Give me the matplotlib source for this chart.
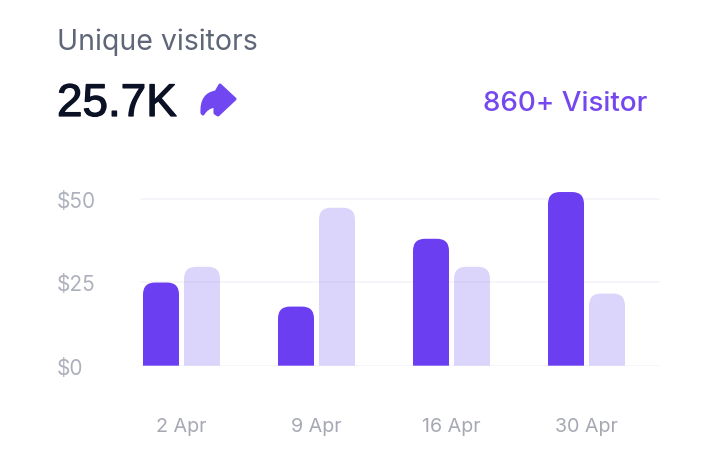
import matplotlib
matplotlib.use("Agg")
import matplotlib.pyplot as plt
import matplotlib.patheffects as pe
from matplotlib.patches import PathPatch
from matplotlib.path import Path
from matplotlib.transforms import Affine2D

plt.rcParams['font.family'] = ['Inter', 'DejaVu Sans']

dates = ["2 Apr", "9 Apr", "16 Apr", "30 Apr"]
dark_vals = [24.9, 17.7, 38, 52]
light_vals = [29.6, 47.3, 29.6, 21.6]
y_ticks = [0, 25, 50]
y_labels = ["$0", "$25", "$50"]

W, H = 706, 452
PURPLE = "#6b3ff1"
PALE = "#6a4cf0"


def round_bar(ax, x, h, w, color, alpha=1.0, r_px=12):
    # bar with only the top corners rounded
    rx = r_px * (ax.get_xlim()[1] - ax.get_xlim()[0]) / (ax.get_position().width * W)
    ry = r_px * (ax.get_ylim()[1] - ax.get_ylim()[0]) / (ax.get_position().height * H)
    l, r = x - w / 2, x + w / 2
    verts = [(l, 0), (l, h - ry), (l, h), (l + rx, h), (r - rx, h), (r, h), (r, h - ry), (r, 0), (l, 0)]
    codes = [Path.MOVETO, Path.LINETO, Path.CURVE3, Path.CURVE3, Path.LINETO,
             Path.CURVE3, Path.CURVE3, Path.LINETO, Path.CLOSEPOLY]
    ax.add_patch(PathPatch(Path(verts, codes), fc=color, ec="none", alpha=alpha, zorder=3))


fig = plt.figure(figsize=(W / 100, H / 100), dpi=100, facecolor="white")
# axes box runs from the $0 line up to a bit above the $50 line
top_px, bot_px = 180.7, 366.7
ax = fig.add_axes([140 / W, 1 - bot_px / H, 520 / W, (bot_px - top_px) / H])
ax.set_xlim((140 - 181.5) / 135, (660 - 181.5) / 135)
ax.set_ylim(0, (bot_px - top_px) / 3.34)

for s in ax.spines.values():
    s.set_visible(False)
ax.set_yticks(y_ticks)
ax.set_yticklabels(y_labels, fontsize=15, color="#aeb1bb")
ax.set_xticks(range(len(dates)))
ax.set_xticklabels(dates, fontsize=14.2, color="#a6a9b3")
ax.tick_params(length=0)
ax.tick_params(axis="x", pad=37)
ax.tick_params(axis="y", pad=0)
for lab in ax.get_yticklabels():
    lab.set_horizontalalignment("left")
    lab.set_x(-83 / 520)
ax.grid(axis="y", color="#f5f5f9", linewidth=1.2, zorder=0)
ax.set_axisbelow(True)

bw = 36 / 135
off = 20.5 / 135
for i in range(len(dates)):
    round_bar(ax, i - off, dark_vals[i], bw, PURPLE)
    round_bar(ax, i + off, light_vals[i], bw, PALE, alpha=0.23)

fig.text(57 / W, 1 - 42 / H, "Unique visitors", fontsize=20.5, color="#5f6678", va="center", ha="left")
big = fig.text(57 / W, 1 - 105 / H, "25.7K", fontsize=33, color="#0c1226", va="center", ha="left",
               family=["Liberation Sans", "DejaVu Sans"], fontweight="normal")
big.set_path_effects([pe.withStroke(linewidth=0.9, foreground="#0c1226")])
fig.text(647 / W, 1 - 104 / H, "860+ Visitor", fontsize=20, color="#7547ef", va="center", ha="right", fontweight="medium")

# arrow icon, in figure pixels (y down)
arrow = [(220, 86), (235, 100), (218, 116), (215, 114), (215, 107), (207, 108), (203, 115),
         (202, 114), (201, 95), (216, 93), (220, 86)]
codes = [Path.MOVETO, Path.LINETO, Path.LINETO, Path.LINETO, Path.LINETO, Path.CURVE3, Path.CURVE3,
         Path.LINETO, Path.CURVE3, Path.CURVE3, Path.CLOSEPOLY]
tr = Affine2D().scale(1, -1).translate(0, H).scale(1 / W, 1 / H) + fig.transFigure
fig.add_artist(PathPatch(Path(arrow, codes), fc="#7047f0", ec="#7047f0", lw=2.2, joinstyle="round", transform=tr))

fig.savefig("out.png", dpi=100)
plt.close()
